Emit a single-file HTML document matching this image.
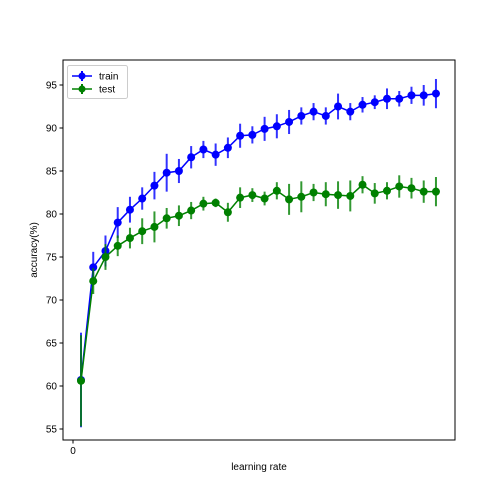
<!DOCTYPE html>
<html><head><meta charset="utf-8"><style>
body{margin:0;background:#fff;}
svg{display:block;font-family:"Liberation Sans",sans-serif;}
</style></head><body>
<svg id="chart" width="504" height="504"></svg>
<script>
const trainVals=[60.7,73.8,75.7,79.0,80.5,81.8,83.3,84.8,85.0,86.6,87.5,86.9,87.7,89.1,89.2,89.9,90.2,90.7,91.4,91.9,91.4,92.5,91.9,92.7,93.0,93.4,93.4,93.8,93.8,94.0];
const trainErr=[5.5,1.8,1.8,1.8,1.5,1.3,1.6,2.2,1.4,1.3,1.0,1.3,1.2,1.4,1.0,1.4,1.4,1.4,1.0,1.0,1.0,1.5,1.0,0.9,0.8,1.2,0.9,1.0,1.2,1.7];
const testVals=[60.6,72.2,75.0,76.3,77.2,78.0,78.5,79.5,79.8,80.4,81.2,81.3,80.2,81.9,82.2,81.8,82.7,81.7,82.0,82.5,82.3,82.2,82.1,83.4,82.4,82.7,83.2,83.0,82.6,82.6];
const testErr=[5.3,1.5,1.5,1.2,1.2,1.5,1.8,1.2,1.2,1.0,0.8,0.5,1.1,1.2,0.8,0.8,1.0,1.8,1.8,1.0,1.4,1.6,1.8,1.0,1.2,1.0,1.3,1.2,1.3,1.7];
const yTicks=[55,60,65,70,75,80,85,90,95];
const xTicks=[0];
const NS="http://www.w3.org/2000/svg";
const svg=document.getElementById('chart');
const L=63,R=455,T=60,B=440;
function xs(i){return 81+i*12.24;}
function xv(v){return 73+v*12.24;}
function ys(v){return 429-(v-55)*8.6;}
function mk(tag,a,p){const e=document.createElementNS(NS,tag);for(const k in a)e.setAttribute(k,a[k]);(p||svg).appendChild(e);return e;}
// frame
const frame=mk('rect',{x:L,y:T,width:R-L,height:B-T,fill:'none',stroke:'#000','stroke-width':1});


yTicks.forEach(t=>{
 const y=ys(t);
 const l=mk('line',{x1:L-3.5,x2:L,y1:y,y2:y,stroke:'#000'});
 
 
 const tx=mk('text',{x:L-6,y:y+3.5,'font-size':10,'text-anchor':'end'});
 tx.textContent=t;
 
 
});
xTicks.forEach(t=>{
 const x=xv(t);
 const l=mk('line',{x1:x,x2:x,y1:B,y2:B+3.5,stroke:'#000'});
 
 
 const tx=mk('text',{x:x,y:B+14,'font-size':10,'text-anchor':'middle'});
 tx.textContent=t;
 
 
});
const xt=mk('text',{x:259,y:470,'font-size':10,'text-anchor':'middle'});xt.textContent='learning rate';


const yt=mk('text',{x:37,y:250,'font-size':10,'text-anchor':'middle',transform:'rotate(-90 37 250)'});yt.textContent='accuracy(%)';


function series(vals,errs,color,name){
 const g=mk('g',{});
 
 
 vals.forEach((v,i)=>{const e=mk('line',{x1:xs(i),x2:xs(i),y1:ys(v-errs[i]),y2:ys(v+errs[i]),stroke:color,'stroke-width':2,opacity:0.8},g);
  
  });
 const pl=mk('polyline',{points:vals.map((v,i)=>xs(i)+','+ys(v)).join(' '),fill:'none',stroke:color,'stroke-width':1.5},g);
 
 
 vals.forEach((v,i)=>{const c=mk('circle',{cx:xs(i),cy:ys(v),r:4,fill:color},g);
  
  });
}
series(trainVals,trainErr,'#0000ff','train');
series(testVals,testErr,'#008000','test');
// legend
const lg=mk('g',{});


mk('rect',{x:67.5,y:65.5,width:60,height:33,rx:2,fill:'#fff',stroke:'#ccc'},lg);
[['train','#0000ff',76],['test','#008000',89]].forEach(([n,c,y])=>{
 const e=mk('g',{},lg);
 
 
 mk('line',{x1:72,x2:92,y1:y,y2:y,stroke:c,'stroke-width':1.5},e);
 mk('line',{x1:82,x2:82,y1:y-5,y2:y+5,stroke:c,'stroke-width':2},e);
 mk('circle',{cx:82,cy:y,r:3.5,fill:c},e);
 const t=mk('text',{x:99,y:y+3.5,'font-size':10},e);t.textContent=n;
});
</script>
</body></html>
